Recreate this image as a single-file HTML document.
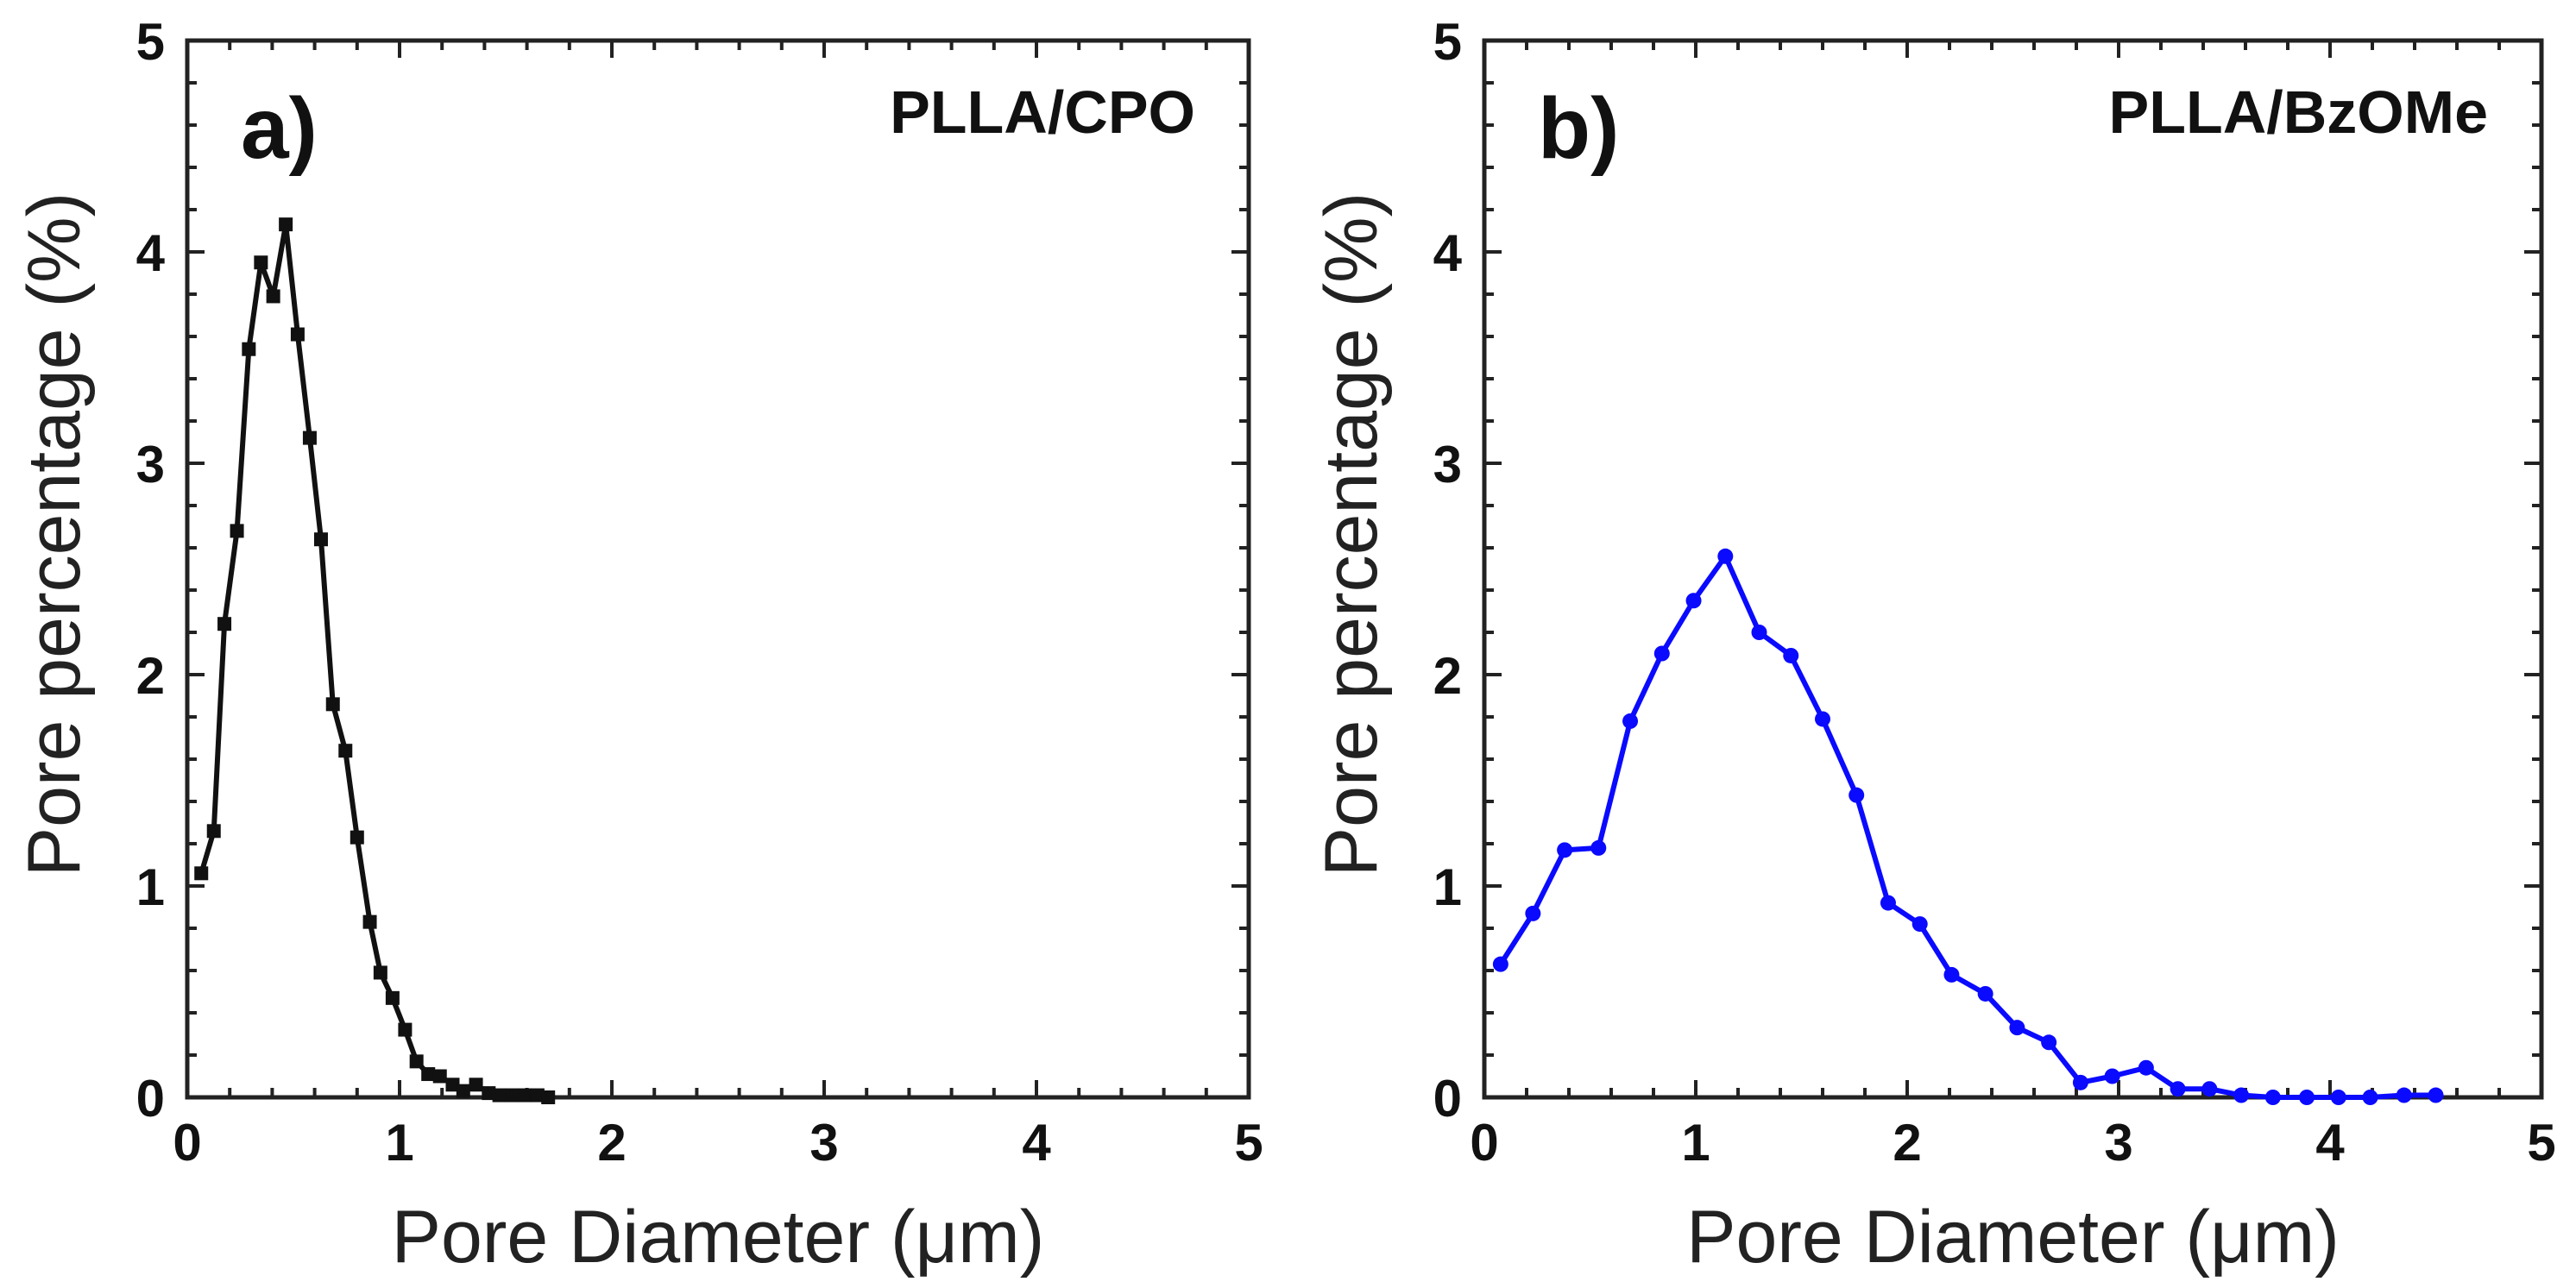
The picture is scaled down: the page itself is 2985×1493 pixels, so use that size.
<!DOCTYPE html>
<html><head><meta charset="utf-8"><style>
html,body{margin:0;padding:0;background:#fff;}
svg{display:block;}
text{font-family:"Liberation Sans",Arial,sans-serif;}
</style></head><body>
<svg id="chart" width="2985" height="1493" viewBox="0 0 2985 1493" xmlns="http://www.w3.org/2000/svg"></svg>
<script>
const xTicks = [0,1,2,3,4,5];
const yTicks = [0,1,2,3,4,5];
const cpoX = [0.066,0.125,0.175,0.234,0.29,0.347,0.405,0.464,0.52,0.577,0.63,0.686,0.745,0.8,0.86,0.91,0.967,1.026,1.08,1.135,1.19,1.25,1.30,1.36,1.42,1.47,1.53,1.59,1.65,1.70];
const cpoY = [1.06,1.26,2.24,2.68,3.54,3.95,3.79,4.13,3.61,3.12,2.64,1.86,1.64,1.23,0.83,0.59,0.47,0.32,0.17,0.11,0.10,0.06,0.03,0.06,0.02,0.01,0.01,0.01,0.01,0.0];
const bzX = [0.077,0.23,0.38,0.54,0.69,0.84,0.99,1.14,1.30,1.45,1.60,1.76,1.91,2.06,2.21,2.37,2.52,2.67,2.82,2.97,3.13,3.28,3.43,3.58,3.73,3.89,4.04,4.19,4.35,4.50];
const bzY = [0.63,0.87,1.17,1.18,1.78,2.10,2.35,2.56,2.20,2.09,1.79,1.43,0.92,0.82,0.58,0.49,0.33,0.26,0.07,0.10,0.14,0.04,0.04,0.01,0,0,0,0,0.01,0.01];

const NS='http://www.w3.org/2000/svg';
const svg=document.getElementById('chart');
function mk(tag,attrs,parent){const e=document.createElementNS(NS,tag);for(const k in attrs)e.setAttribute(k,attrs[k]);(parent||svg).appendChild(e);return e;}

function panel(id,L,R,T,B,xs,ys,color,marker,letter,title){
  const g=mk('g',{});
  
  
  const sx=v=>L+(v/5)*(R-L), sy=v=>B-(v/5)*(B-T);
  for(let i=0;i<=25;i++){
    const v=i*0.2, major=(i%5===0), len=major?20:11;
    const x=sx(v), y=sy(v);
    const t1=mk('path',{d:`M${x},${B}V${B-len}M${x},${T}V${T+len}M${L},${y}H${L+len}M${R},${y}H${R-len}`,stroke:'#222','stroke-width':4,fill:'none'},g);
    
    
  }
  const fr=mk('rect',{x:L,y:T,width:R-L,height:B-T,fill:'none',stroke:'#222','stroke-width':5},g);
  
  
  xTicks.forEach(v=>{
    const t=mk('text',{x:sx(v),y:1345,'text-anchor':'middle','font-size':60,'font-weight':'bold',fill:'#111'},g);
    t.textContent=v;
    
    
  });
  yTicks.forEach(v=>{
    const t=mk('text',{x:L-26,y:sy(v)+22,'text-anchor':'end','font-size':60,'font-weight':'bold',fill:'#111'},g);
    t.textContent=v;
    
    
  });
  const xt=mk('text',{x:(L+R)/2,y:1463,'text-anchor':'middle','font-size':86,fill:'#222'},g);
  xt.textContent='Pore Diameter (\u03bcm)';
  
  
  const yx=L-125, yc=(T+B)/2-40;
  const yt=mk('text',{x:yx,y:yc,'text-anchor':'middle','font-size':86,fill:'#222',transform:`rotate(-90 ${yx} ${yc})`},g);
  yt.textContent='Pore percentage (%)';
  
  
  const lt=mk('text',{x:L+62,y:183,'font-size':100,'font-weight':'bold',fill:'#111'},g);
  lt.textContent=letter;
  
  
  const tt=mk('text',{x:R-62,y:154,'text-anchor':'end','font-size':70,'font-weight':'bold',fill:'#111'},g);
  tt.textContent=title;
  
  
  const pts=xs.map((v,i)=>sx(v)+','+sy(ys[i])).join(' ');
  const line=mk('polyline',{points:pts,fill:'none',stroke:color,'stroke-width':6,'stroke-linejoin':'round'},g);
  
  
  xs.forEach((v,i)=>{
    let m;
    if(marker==='square') m=mk('rect',{x:sx(v)-8,y:sy(ys[i])-8,width:16,height:16,fill:color},g);
    else m=mk('circle',{cx:sx(v),cy:sy(ys[i]),r:9,fill:color},g);
    
    
  });
}
panel('panel-a-plla-cpo',217,1447,47,1272,cpoX,cpoY,'#111','square','a)','PLLA/CPO');
panel('panel-b-plla-bzome',1720,2945,47,1272,bzX,bzY,'#0a0aff','circle','b)','PLLA/BzOMe');
</script>
</body></html>
